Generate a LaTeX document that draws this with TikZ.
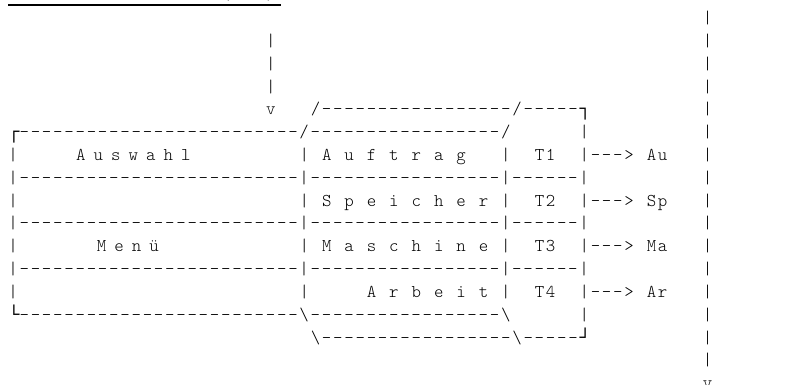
\documentclass[tikz,border=0pt]{standalone}
\usepackage{fontspec}
% light typewriter face, tracked out to an 11.2pt character cell
\newfontfamily\asciimono{lmmonolt10-regular}[Extension=.otf, LetterSpace=9.7]
% box-drawing corners come from a face that has them
\newfontfamily\asciibox{Liberation Mono}

\tikzset{
  glyph/.style={anchor=base west, inner sep=0pt, outer sep=0pt,
    font=\asciimono\fontsize{18}{22}\selectfont, text=black},
  cornerglyph/.style={glyph, font=\asciibox\fontsize{18.67}{22}\selectfont},
  rule/.style={line width=2.2pt, draw=black},
}

% character grid: column width 11.2, row pitch 22.8
\newcommand\gx[1]{8.4+11.2*(#1)}
\newcommand\gy[1]{-(23.8+22.8*(#1))}
\newcommand\putcell[4]{\node[glyph] (#1) at ({\gx{#2}},{\gy{#3}}) {#4};}
% letter-spaced word: name, left x, row, pitch, letters
\newcommand\spacedword[5]{%
  \foreach \c [count=\i from 0] in {#5} {\node[glyph] (#1-\i) at ({#2+#4*\i},{\gy{#3}}) {\c};}}

\begin{document}
\begin{tikzpicture}[x=1pt,y=1pt]
\useasboundingbox (0,0) rectangle (788,-385);

% heading line, underlined
\putcell{head-open}{19}{-1.08}{(}
\putcell{head-close}{23}{-1.08}{)}
\coordinate (head-a) at (8.3,-5.4);
\coordinate (head-b) at (281,-5.4);
\draw[rule] (head-a) -- (head-b);

% incoming arrow from above
\foreach \k in {1,2,3} {\putcell{in-\k}{23}{\k}{|}}
\putcell{in-end}{23}{4}{v}

% outgoing rail on the right
\foreach \k in {0,...,15} {\putcell{rail-\k}{62}{\k}{|}}
\putcell{rail-end}{62}{16}{v}

% top edges of the block
\putcell{top-back}{27}{4}{/-----------------/-----}
\node[cornerglyph] (corner-tr) at ({\gx{51}},{\gy{4}}) {┐};
\node[cornerglyph] (corner-tl) at ({\gx{0}},{\gy{5}}) {┌};
\putcell{top-front}{1}{5}{-------------------------/-----------------/}
\putcell{top-side}{51}{5}{|}

% row: Auswahl / Auftrag / T1
\putcell{r6-left}{0}{6}{|}
\spacedword{auswahl}{76.2}{6}{17.5}{A,u,s,w,a,h,l}
\putcell{r6-mid}{26}{6}{|}
\spacedword{auftrag}{\gx{28}}{6}{22.4}{A,u,f,t,r,a,g}
\putcell{r6-sep}{44}{6}{|}
\putcell{t1}{47}{6}{T1}
\putcell{r6-out}{51}{6}{|--->}
\putcell{au}{57}{6}{Au}

% separators
\foreach \k in {7,9,11} {\putcell{sep-\k}{0}{\k}{|-------------------------|-----------------|------|}}

% row: Speicher / T2
\putcell{r8-left}{0}{8}{|}
\putcell{r8-mid}{26}{8}{|}
\spacedword{speicher}{\gx{28}}{8}{22.4}{S,p,e,i,c,h,e,r}
\putcell{r8-sep}{44}{8}{|}
\putcell{t2}{47}{8}{T2}
\putcell{r8-out}{51}{8}{|--->}
\putcell{sp}{57}{8}{Sp}

% row: Menü / Maschine / T3
\putcell{r10-left}{0}{10}{|}
\spacedword{menue}{96.8}{10}{17.5}{M,e,n,ü}
\putcell{r10-mid}{26}{10}{|}
\spacedword{maschine}{\gx{28}}{10}{22.4}{M,a,s,c,h,i,n,e}
\putcell{r10-sep}{44}{10}{|}
\putcell{t3}{47}{10}{T3}
\putcell{r10-out}{51}{10}{|--->}
\putcell{ma}{57}{10}{Ma}

% row: Arbeit / T4
\putcell{r12-left}{0}{12}{|}
\putcell{r12-mid}{26}{12}{|}
\spacedword{arbeit}{\gx{32}}{12}{22.4}{A,r,b,e,i,t}
\putcell{r12-sep}{44}{12}{|}
\putcell{t4}{47}{12}{T4}
\putcell{r12-out}{51}{12}{|--->}
\putcell{ar}{57}{12}{Ar}

% bottom edges of the block
\node[cornerglyph] (corner-bl) at ({\gx{0}},{\gy{13}}) {└};
\putcell{bot-front}{1}{13}{-------------------------\textbackslash-----------------\textbackslash}
\putcell{bot-side}{51}{13}{|}
\putcell{bot-back}{27}{14}{\textbackslash-----------------\textbackslash-----}
\node[cornerglyph] (corner-br) at ({\gx{51}},{\gy{14}}) {┘};
\end{tikzpicture}
\end{document}
